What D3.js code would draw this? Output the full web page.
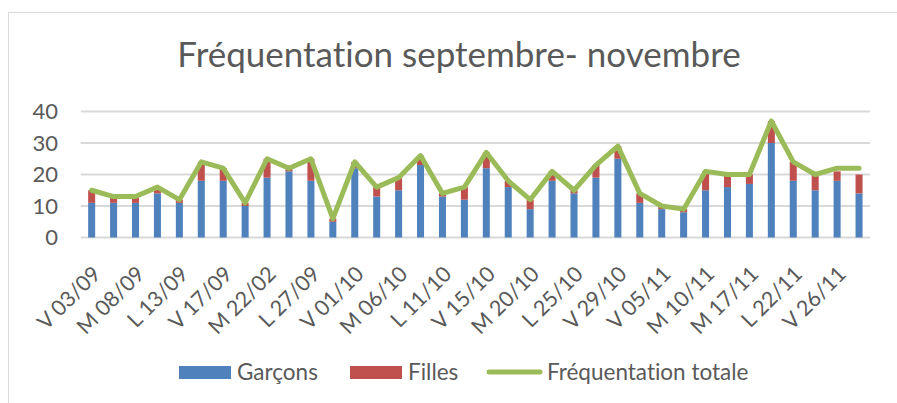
<!DOCTYPE html>
<html>
<head>
<meta charset="utf-8">
<script src="https://cdn.jsdelivr.net/npm/d3@7"></script>
<style>
  body { margin: 0; background: #fff; }
  text { font-family: Lato, "Open Sans", sans-serif; fill: #595959; font-variant-ligatures: none; }
</style>
</head>
<body>
<div id="chart"></div>
<script>
// jours (une étiquette sur deux est affichée sur l'axe)
const jours = [
  "V 03/09", "L 06/09", "M 08/09", "V 10/09", "L 13/09", "M 15/09",
  "V 17/09", "L 20/09", "M 22/02", "V 24/09", "L 27/09", "M 29/09",
  "V 01/10", "L 04/10", "M 06/10", "V 08/10", "L 11/10", "M 13/10",
  "V 15/10", "L 18/10", "M 20/10", "V 22/10", "L 25/10", "M 27/10",
  "V 29/10", "M 03/11", "V 05/11", "L 08/11", "M 10/11", "L 15/11",
  "M 17/11", "V 19/11", "L 22/11", "M 24/11", "V 26/11", "L 29/11"
];
const garcons = [11, 11, 11, 14, 11, 18, 18, 10, 19, 21, 18, 5, 22, 13, 15, 23, 13, 12,
  22, 16, 9, 18, 14, 19, 25, 11, 9, 8, 15, 16, 17, 30, 18, 15, 18, 14];
const filles = [4, 2, 2, 2, 1, 6, 4, 1, 6, 1, 7, 1, 2, 3, 4, 3, 1, 4,
  5, 2, 3, 3, 1, 4, 4, 3, 1, 1, 6, 4, 3, 7, 6, 5, 3, 6];
const totale = [15, 13, 13, 16, 12, 24, 22, 11, 25, 22, 25, 6, 24, 16, 19, 26, 14, 16,
  27, 18, 12, 21, 15, 23, 29, 14, 10, 9, 21, 20, 20, 37, 24, 20, 22, 22];
const yTicks = [0, 10, 20, 30, 40];

const width = 897, height = 403;
const blue = "#4f81bd", red = "#c0504d", green = "#9bbb59";

const svg = d3.select("#chart").append("svg")
  .attr("width", width)
  .attr("height", height);

// cadre du graphique (seuls les bords haut et gauche sont visibles)
svg.append("path")
  .attr("d", "M8.5," + height + "V12.5H" + width)
  .style("fill", "none")
  .style("stroke", "#d9d9d9")
  .style("stroke-width", 1);

svg.append("text")
  .attr("x", 459)
  .attr("y", 67)
  .attr("text-anchor", "middle")
  .style("font-size", "35px")
  .text("Fréquentation septembre- novembre");

const x = d3.scaleBand()
  .domain(jours)
  .range([80.7, 870])
  .paddingInner(0.68)
  .paddingOuter(0.34);

const y = d3.scaleLinear()
  .domain([0, 40])
  .range([237.5, 111.5]);

// grille + labels Y
const yAxis = svg.append("g")
  .call(d3.axisLeft(y).tickValues(yTicks).tickSize(0).tickPadding(0))
  .attr("transform", "translate(58,0)");
yAxis.select(".domain").remove();
yAxis.selectAll("text")
  .style("font-size", "22px")
  .style("fill", "#595959")
  .style("font-family", "Lato, sans-serif");

svg.append("g")
  .selectAll("line")
  .data(yTicks)
  .join("line")
  .attr("x1", 80.7)
  .attr("x2", 870)
  .attr("y1", d => y(d))
  .attr("y2", d => y(d))
  .style("stroke", "#d9d9d9")
  .style("stroke-width", 2);

// barres empilées
const stack = jours.map((j, i) => ({ jour: j, g: garcons[i], f: filles[i] }));

svg.append("g")
  .selectAll("rect")
  .data(stack)
  .join("rect")
  .attr("x", d => x(d.jour))
  .attr("width", x.bandwidth())
  .attr("y", d => y(d.g))
  .attr("height", d => y(0) - y(d.g))
  .style("fill", blue);

svg.append("g")
  .selectAll("rect")
  .data(stack)
  .join("rect")
  .attr("x", d => x(d.jour))
  .attr("width", x.bandwidth())
  .attr("y", d => y(d.g + d.f))
  .attr("height", d => y(d.g) - y(d.g + d.f))
  .style("fill", red);

// ligne fréquentation totale
const line = d3.line()
  .x((d, i) => x(jours[i]) + x.bandwidth() / 2)
  .y(d => y(d));

svg.append("path")
  .attr("d", line(totale))
  .style("fill", "none")
  .style("stroke", green)
  .style("stroke-width", 5)
  .style("stroke-linejoin", "round")
  .style("stroke-linecap", "round");

// labels X (un sur deux), inclinés à 45°
svg.append("g")
  .selectAll("text")
  .data(jours.filter((d, i) => i % 2 === 0))
  .join("text")
  .attr("text-anchor", "end")
  .attr("dy", "0.35em")
  .attr("transform", d => `translate(${x(d) + x.bandwidth() / 2 + 5},270) rotate(-45)`)
  .style("font-size", "21.5px")
  .text(d => d);

// légende
const legend = svg.append("g").style("font-size", "22.5px");
legend.append("rect")
  .attr("x", 179).attr("y", 366).attr("width", 52).attr("height", 13)
  .style("fill", blue);
legend.append("text")
  .attr("x", 237).attr("y", 380).text("Garçons");
legend.append("rect")
  .attr("x", 350).attr("y", 366).attr("width", 52).attr("height", 13)
  .style("fill", red);
legend.append("text")
  .attr("x", 408).attr("y", 380).text("Filles");
legend.append("line")
  .attr("x1", 489).attr("x2", 540).attr("y1", 372).attr("y2", 372)
  .style("stroke", green)
  .style("stroke-width", 5)
  .style("stroke-linecap", "round");
legend.append("text")
  .attr("x", 547).attr("y", 380).text("Fréquentation totale");
</script>
</body>
</html>
